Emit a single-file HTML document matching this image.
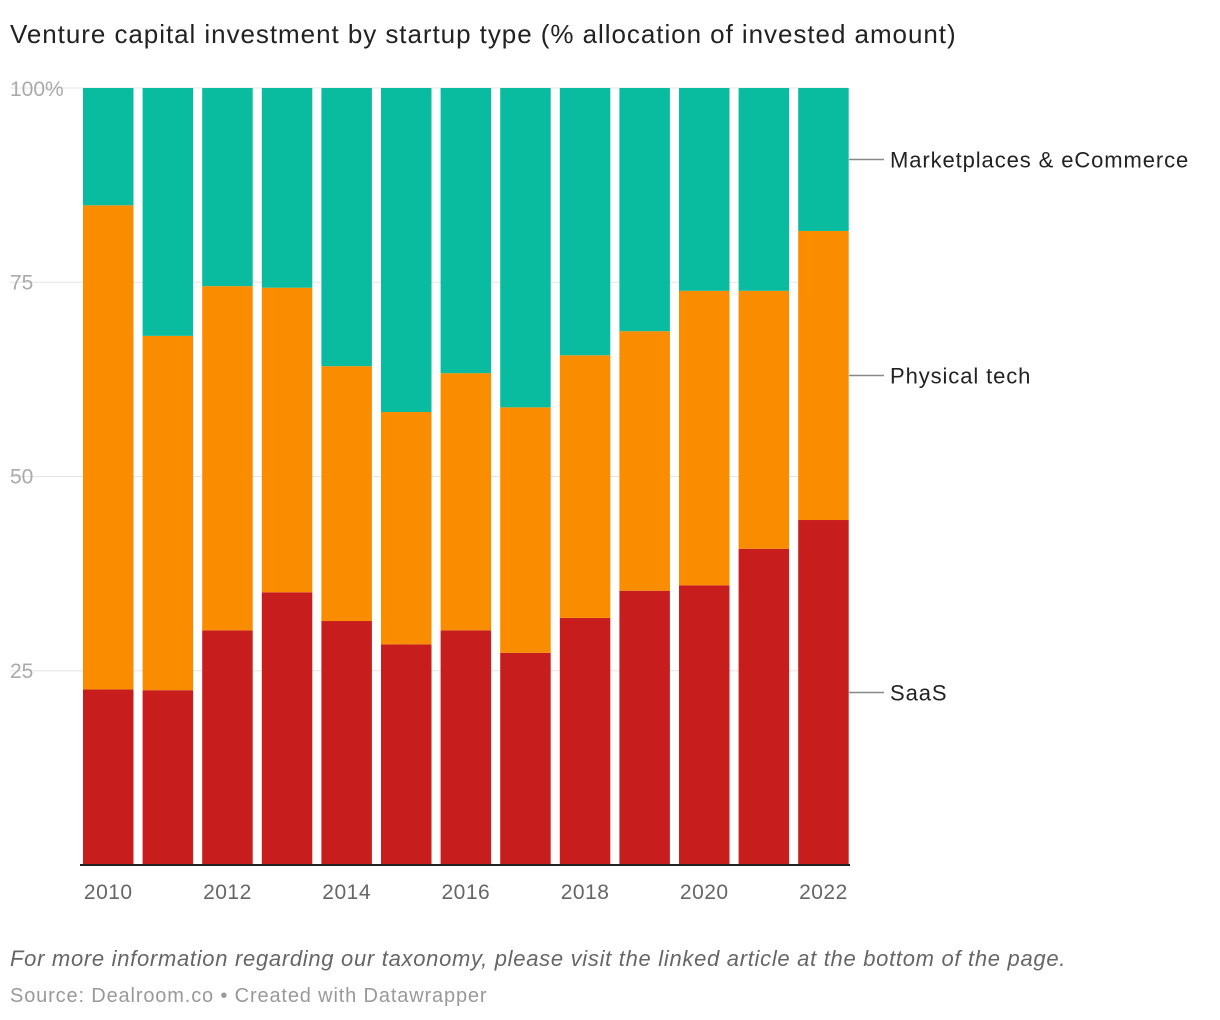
<!DOCTYPE html>
<html><head><meta charset="utf-8">
<style>
body{margin:0;background:#fff;font-family:"Liberation Sans",Arial,sans-serif;}
#wrap{position:relative;width:1220px;height:1020px;overflow:hidden}
.t{position:absolute;white-space:nowrap}
</style></head>
<body><div id="wrap">
<div class="t" style="left:10px;top:19px;font-size:26px;color:#222;letter-spacing:0.95px">Venture capital investment by startup type (% allocation of invested amount)</div>
<svg id="chart" width="1220" height="940" style="position:absolute;left:0;top:0"></svg>
<div class="t" style="left:10px;top:946px;font-size:22px;font-style:italic;color:#666;letter-spacing:0.7px">For more information regarding our taxonomy, please visit the linked article at the bottom of the page.</div>
<div class="t" style="left:10px;top:985px;font-size:20px;color:#999;letter-spacing:0.85px">Source: Dealroom.co • Created with Datawrapper</div>
</div>
<script>
const years=[2010,2011,2012,2013,2014,2015,2016,2017,2018,2019,2020,2021,2022];
const saas=[22.6,22.5,30.2,35.1,31.4,28.4,30.2,27.3,31.8,35.3,36.0,40.7,44.4];
const physical=[62.3,45.6,44.3,39.2,32.8,29.9,33.1,31.6,33.8,33.4,37.9,33.2,37.2];
const yTicks=[25,50,75,100];
const yTickLabels=["25","50","75","100%"];
const xTickLabels=["2010","2012","2014","2016","2018","2020","2022"];
const seriesNames=["SaaS","Physical tech","Marketplaces & eCommerce"];
const colors=["#c71e1d","#fa8c00","#09bb9f"];
const NS="http://www.w3.org/2000/svg";
const svg=document.getElementById('chart');
const top0=88,bot=865,left0=83,step=59.6,bw=50.5;
const y=v=>bot-(bot-top0)*v/100;
const x=i=>left0+i*step;
function mk(tag,a){const e=document.createElementNS(NS,tag);for(const k in a)e.setAttribute(k,a[k]);svg.appendChild(e);return e;}
yTicks.forEach((t,i)=>{
  const g=mk('line',{x1:10,x2:848,y1:y(t),y2:y(t),stroke:'#e5e5e5','stroke-width':1});
  
  
  const l=mk('text',{x:10,y:y(t)+(t===100?8:7),'font-size':21,fill:'#aaa'});
  l.textContent=yTickLabels[i];
  
  
});
years.forEach((yr,i)=>{
  const mk3=100-saas[i]-physical[i];
  const vals=[saas[i],physical[i],mk3];
  let cum=0;
  vals.forEach((v,s)=>{
    const r=mk('rect',{x:x(i),width:bw,y:y(cum+v),height:y(cum)-y(cum+v),fill:colors[s]});
    
    
    cum+=v;
  });
});
xTickLabels.forEach(lbl=>{
  const i=years.indexOf(+lbl);
  const t=mk('text',{x:x(i)+bw/2,y:899,'font-size':21,fill:'#666','text-anchor':'middle','letter-spacing':0.5});
  t.textContent=lbl;
  
  
});
const base=mk('line',{x1:80,x2:850,y1:bot,y2:bot,stroke:'#222','stroke-width':2});


const last=years.length-1;
const mids=[saas[last]/2,saas[last]+physical[last]/2,(saas[last]+physical[last]+100)/2];
seriesNames.forEach((n,s)=>{
  const yy=y(mids[s]);
  const ln=mk('line',{x1:849,x2:884,y1:yy,y2:yy,stroke:'#888','stroke-width':1.5});
  
  
  const t=mk('text',{x:890,y:yy+8,'font-size':22,fill:'#222','letter-spacing':0.9});
  t.textContent=n;
  
  
});
</script>
</body></html>
